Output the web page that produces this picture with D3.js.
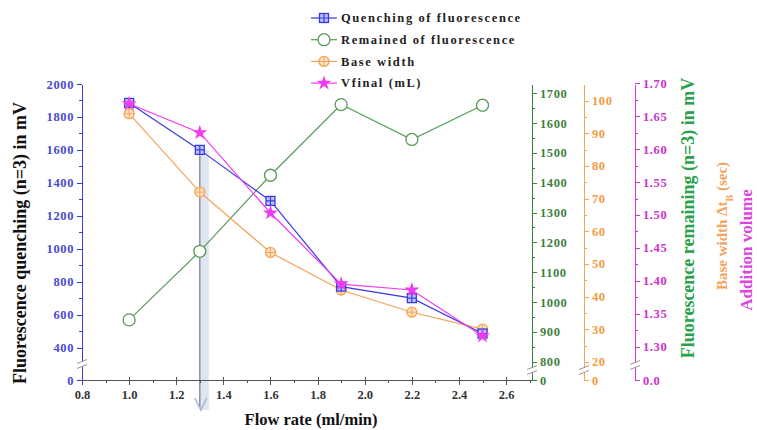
<!DOCTYPE html>
<html>
<head>
<title>flow rate</title>
<script src="https://d3js.org/d3.v7.min.js"></script>
<style>
body { margin: 0; background: #fff; }
text { font-family: "Liberation Serif", "Times New Roman", serif; font-weight: bold; }
.axis path, .axis line { shape-rendering: crispEdges; }
</style>
</head>
<body>
<svg class="chart"></svg>
<script>
// data
var flowRate = [1.0, 1.3, 1.6, 1.9, 2.2, 2.5];
var quenching = [1885, 1600, 1290, 770, 700, 485];
var remained = [940, 1170, 1425, 1662, 1545, 1660];
var baseWidth = [96, 72, 53.5, 42, 35.2, 30];
var vfinal = [1.669, 1.625, 1.503, 1.395, 1.386, 1.316];

var xTicks = [0.8, 1.0, 1.2, 1.4, 1.6, 1.8, 2.0, 2.2, 2.4, 2.6];
var leftTicks = [0, 400, 600, 800, 1000, 1200, 1400, 1600, 1800, 2000];
var greenTicks = [0, 800, 900, 1000, 1100, 1200, 1300, 1400, 1500, 1600, 1700];
var orangeTicks = [0, 20, 30, 40, 50, 60, 70, 80, 90, 100];
var magentaTicks = [0, 1.30, 1.35, 1.40, 1.45, 1.50, 1.55, 1.60, 1.65, 1.70];
var legendNames = ["Quenching of fluorescence", "Remained of fluorescence", "Base width", "Vfinal (mL)"];

var svgWidth = 757, svgHeight = 430;
var x0 = 82, x1 = 532, yTop = 84, yBot = 380;

var blue = "#3a3ae0", green = "#5a9a5a", orange = "#f5a357", magenta = "#f03cf0";

var svg = d3.select(".chart").attr("width", svgWidth).attr("height", svgHeight);

var xScale = d3.scaleLinear().domain([0.8, 2.71]).range([x0, x1]);
// broken axes: small lower segment holding 0, then the main segment
var yLeft = d3.scaleLinear().domain([0, 300, 2000]).range([yBot, 364, yTop]);
var yGreen = d3.scaleLinear().domain([0, 772, 1731]).range([yBot, 370, yTop]);
var yOrange = d3.scaleLinear().domain([0, 17.5, 105.1]).range([yBot, 370, yTop]);
var yMag = d3.scaleLinear().domain([0, 1.272, 1.699]).range([yBot, 365, yTop]);

// highlight at 1.3
var xh = xScale(1.3);
svg.append("rect").attr("x", xh).attr("y", yLeft(1600)).attr("width", 9)
    .attr("height", 410 - yLeft(1600)).attr("fill", "#dfe6f1");
svg.append("line").attr("x1", xh).attr("x2", xh).attr("y1", yLeft(1600)).attr("y2", 408)
    .attr("stroke", "#8793a3").attr("stroke-width", 1.5);
svg.append("path").attr("d", "M" + (xh - 5) + ",398L" + (xh + 1) + ",410L" + (xh + 7) + ",398")
    .attr("fill", "none").attr("stroke", "#a9b4c6").attr("stroke-width", 1.5);

// x axis
var minorX = d3.range(0.9, 2.71, 0.2);
svg.append("g").attr("class", "axis").attr("transform", "translate(0," + yBot + ")")
    .call(d3.axisBottom(xScale).tickValues(minorX).tickSize(3).tickFormat(""))
    .call(g => g.select(".domain").remove())
    .selectAll("line").attr("stroke", "#555");
var xAxisG = svg.append("g").attr("class", "axis").attr("transform", "translate(0," + yBot + ")")
    .call(d3.axisBottom(xScale).tickValues(xTicks).tickSize(5).tickSizeOuter(0).tickFormat(d3.format(".1f")));
xAxisG.select(".domain").attr("stroke", "#555").attr("stroke-width", 1.5);
xAxisG.selectAll("line").attr("stroke", "#555").attr("y1", -3);
xAxisG.selectAll("text").attr("fill", "#333").style("font-size", "12.5px").attr("dy", "0.9em");

function drawAxis(scale, ticks, minors, xpos, color, textColor, side, fmt) {
    var ax = side === "left" ? d3.axisLeft(scale) : d3.axisRight(scale);
    var g0 = svg.append("g").attr("class", "axis").attr("transform", "translate(" + xpos + ",0)")
        .call((side === "left" ? d3.axisLeft(scale) : d3.axisRight(scale)).tickValues(minors).tickSize(3).tickFormat(""));
    g0.select(".domain").remove();
    g0.selectAll("line").attr("stroke", color);
    var g = svg.append("g").attr("class", "axis").attr("transform", "translate(" + xpos + ",0)")
        .call(ax.tickValues(ticks).tickSize(5).tickSizeOuter(0).tickFormat(fmt));
    g.select(".domain").attr("stroke", color).attr("stroke-width", 1.5);
    g.selectAll("line").attr("stroke", color);
    g.selectAll("text").attr("fill", textColor).style("font-size", "12.5px").style("letter-spacing", "0.6px");
    return g;
}

function drawBreak(xpos, y) {
    var b = svg.append("g");
    b.append("rect").attr("x", xpos - 3).attr("y", y - 2).attr("width", 6).attr("height", 4).attr("fill", "#fff");
    [-2.5, 2.5].forEach(function (o) {
        b.append("line").attr("x1", xpos - 5).attr("x2", xpos + 5).attr("y1", y + o + 2).attr("y2", y + o - 2)
            .attr("stroke", "#999").attr("stroke-width", 1);
    });
}

drawAxis(yLeft, leftTicks, d3.range(500, 2000, 200), x0, blue, "#4a4ad6", "left", d3.format("d"));
drawAxis(yGreen, greenTicks, d3.range(850, 1731, 100), x1, "#3f7f3f", "#3f7f3f", "right", d3.format("d"));
drawAxis(yOrange, orangeTicks, d3.range(25, 105, 10), 584, orange, "#f39a45", "right", d3.format("d"));
drawAxis(yMag, magentaTicks, d3.range(1.325, 1.7, 0.05), 635, "#dd33dd", "#cc33cc", "right",
    function (d) { return d === 0 ? "0.0" : d3.format(".2f")(d); });

drawBreak(x0, 364);
drawBreak(x1, 370);
drawBreak(584, 370);
drawBreak(635, 365);

// series
function markerFor(g, kind, color) {
    if (kind === "square") {
        g.append("rect").attr("x", -4.5).attr("y", -4.5).attr("width", 9).attr("height", 9)
            .attr("fill", "#b9c4ff").attr("stroke", color).attr("stroke-width", 1.3);
        g.append("path").attr("d", "M-4.5,0H4.5M0,-4.5V4.5").attr("stroke", color).attr("stroke-width", 1.2);
    } else if (kind === "circle") {
        g.append("circle").attr("r", 6).attr("fill", "#fff").attr("stroke", color).attr("stroke-width", 1.3);
    } else if (kind === "phi") {
        g.append("circle").attr("r", 5).attr("fill", "#fde3c4").attr("stroke", color).attr("stroke-width", 1.3);
        g.append("path").attr("d", "M0,-5V5M-5,0H5").attr("stroke", color).attr("stroke-width", 1);
    } else {
        g.append("path").attr("d", d3.symbol().type(d3.symbolStar).size(70)()).attr("fill", color);
    }
}

var series = [
    {values: quenching, scale: yLeft, color: blue, kind: "square"},
    {values: remained, scale: yGreen, color: green, kind: "circle"},
    {values: baseWidth, scale: yOrange, color: orange, kind: "phi"},
    {values: vfinal, scale: yMag, color: magenta, kind: "star"}
];

var drawOrder = [1, 2, 0, 3];
drawOrder.forEach(function (si) {
    var s = series[si];
    var line = d3.line().x((d, i) => xScale(flowRate[i])).y(d => s.scale(d));
    svg.append("path").datum(s.values).attr("d", line).attr("fill", "none")
        .attr("stroke", s.color).attr("stroke-width", 1.2);
    svg.selectAll(".m" + si).data(s.values).enter().append("g").attr("class", "m" + si)
        .attr("transform", (d, i) => "translate(" + xScale(flowRate[i]) + "," + s.scale(d) + ")")
        .each(function () { markerFor(d3.select(this), s.kind, s.color); });
});

// legend
var legend = svg.append("g");
legendNames.forEach(function (name, i) {
    var y = 18 + i * 21.7;
    var s = series[i];
    legend.append("line").attr("x1", 311).attr("x2", 337).attr("y1", y).attr("y2", y)
        .attr("stroke", s.color).attr("stroke-width", 1.2);
    var m = legend.append("g").attr("transform", "translate(324," + y + ")");
    markerFor(m, s.kind, s.color);
    legend.append("text").attr("x", 341).attr("y", y).attr("dy", "0.35em")
        .style("font-size", "12.5px").style("letter-spacing", "1.6px").attr("fill", "#222").text(name);
});

// axis titles
svg.append("text").attr("transform", "translate(26,243) rotate(-90)").attr("text-anchor", "middle")
    .style("font-size", "18px").attr("fill", "#111").text("Fluorescence quenching (n=3) in mV");
svg.append("text").attr("transform", "translate(694,218) rotate(-90)").attr("text-anchor", "middle")
    .style("font-size", "18px").attr("fill", "#2aa24a").text("Fluorescence remaining (n=3) in mV");
var bw = svg.append("text").attr("transform", "translate(727,226) rotate(-90)").attr("text-anchor", "middle")
    .style("font-size", "15px").attr("fill", "#f6a35c");
bw.append("tspan").text("Base width \u0394t");
bw.append("tspan").attr("baseline-shift", "sub").style("font-size", "10px").text("B");
bw.append("tspan").text(" (sec)");
svg.append("text").attr("transform", "translate(752,250) rotate(-90)").attr("text-anchor", "middle")
    .style("font-size", "17px").attr("fill", "#dd44dd").text("Addition volume");
svg.append("text").attr("x", 311).attr("y", 425).attr("text-anchor", "middle")
    .style("font-size", "16.5px").attr("fill", "#111").text("Flow rate (ml/min)");
</script>
</body>
</html>
